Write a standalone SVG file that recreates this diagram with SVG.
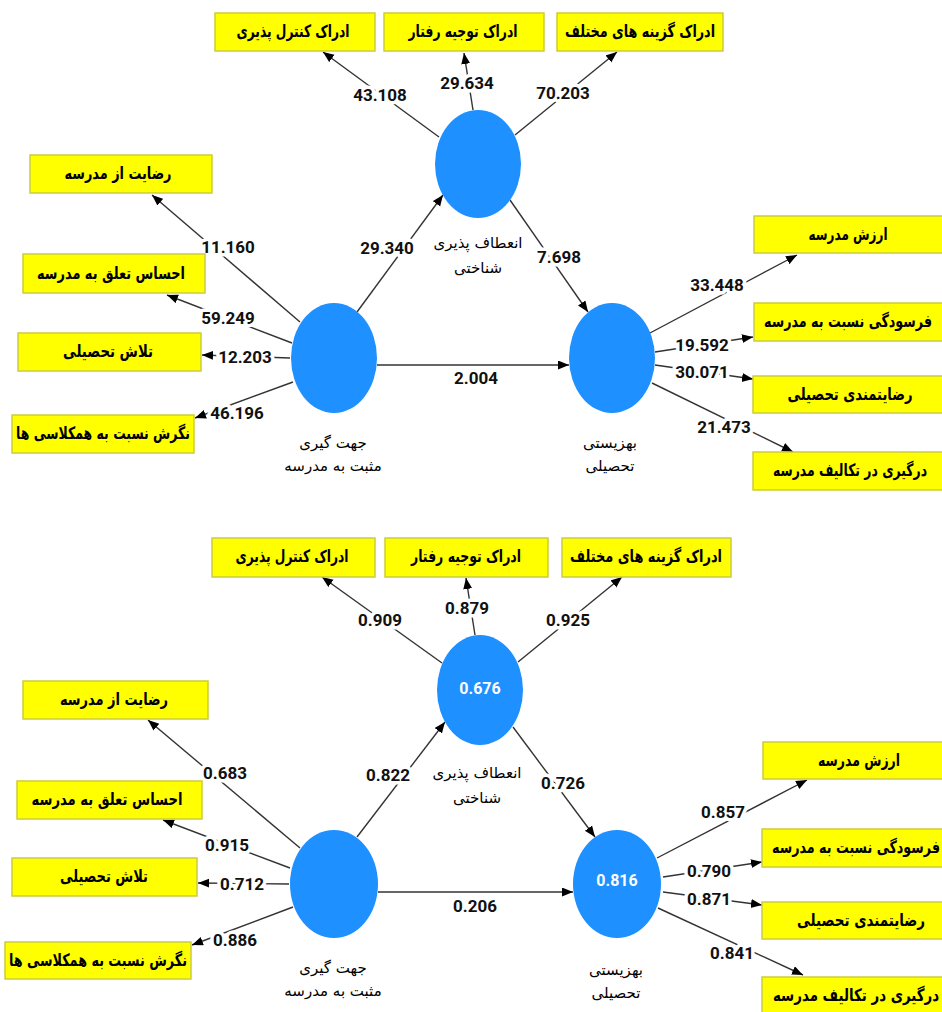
<svg xmlns="http://www.w3.org/2000/svg" width="942" height="1012" viewBox="0 0 942 1012">
<style>
.box{fill:#FFFF00;stroke:#CDCD3A;stroke-width:1.5}
.bt{font-family:"DejaVu Sans",sans-serif;font-weight:bold;font-size:17px;fill:#000;text-anchor:middle;dominant-baseline:central;direction:rtl}
.lv{fill:#1E90FF}
.lt{font-family:"DejaVu Sans",sans-serif;font-size:15px;fill:#000;text-anchor:middle;dominant-baseline:central;direction:rtl}
.r2{font-family:"Roboto","Liberation Sans",sans-serif;font-weight:bold;font-size:16px;fill:#fff;text-anchor:middle;dominant-baseline:central}
.ln{stroke:#333;stroke-width:1.4;fill:none;marker-end:url(#ah)}
.nl{font-family:"Roboto","Liberation Sans",sans-serif;font-weight:bold;font-size:17px;fill:#111;text-anchor:middle;dominant-baseline:central;stroke:#fff;stroke-width:7;paint-order:stroke;stroke-linejoin:round}
</style>
<defs>
<marker id="ah" markerUnits="userSpaceOnUse" markerWidth="12" markerHeight="10" refX="11" refY="4.5" orient="auto">
<path d="M0,0 L11,4.5 L0,9 z" fill="#000"/>
</marker>
</defs>
<rect width="942" height="1012" fill="#fff"/>

<g id="connectors">
<!-- top diagram -->
<line class="ln" x1="439" y1="137" x2="323" y2="52"/>
<line class="ln" x1="473" y1="110" x2="464" y2="53"/>
<line class="ln" x1="515" y1="135" x2="617" y2="52"/>
<line class="ln" x1="510" y1="200" x2="588" y2="312"/>
<line class="ln" x1="300" y1="322" x2="152" y2="195"/>
<line class="ln" x1="357" y1="312" x2="443" y2="195"/>
<line class="ln" x1="292" y1="343" x2="167" y2="295"/>
<line class="ln" x1="290" y1="358" x2="202" y2="355"/>
<line class="ln" x1="293" y1="382" x2="195" y2="418"/>
<line class="ln" x1="377" y1="365" x2="569" y2="365"/>
<line class="ln" x1="650" y1="333" x2="797" y2="255"/>
<line class="ln" x1="655" y1="352" x2="753" y2="337"/>
<line class="ln" x1="655" y1="365" x2="753" y2="379"/>
<line class="ln" x1="652" y1="383" x2="793" y2="452"/>
<text class="nl" x="380" y="95">43.108</text>
<text class="nl" x="467" y="83">29.634</text>
<text class="nl" x="563" y="93">70.203</text>
<text class="nl" x="559" y="257">7.698</text>
<text class="nl" x="228" y="247">11.160</text>
<text class="nl" x="387" y="248">29.340</text>
<text class="nl" x="228" y="318">59.249</text>
<text class="nl" x="245" y="357">12.203</text>
<text class="nl" x="237" y="413">46.196</text>
<text class="nl" x="476" y="378">2.004</text>
<text class="nl" x="717" y="285">33.448</text>
<text class="nl" x="702" y="345">19.592</text>
<text class="nl" x="702" y="372">30.071</text>
<text class="nl" x="724" y="427">21.473</text>
<!-- bottom diagram -->
<line class="ln" x1="442" y1="663" x2="322" y2="577"/>
<line class="ln" x1="475" y1="635" x2="466" y2="578"/>
<line class="ln" x1="518" y1="662" x2="622" y2="577"/>
<line class="ln" x1="513" y1="727" x2="595" y2="837"/>
<line class="ln" x1="300" y1="848" x2="148" y2="720"/>
<line class="ln" x1="357" y1="837" x2="445" y2="722"/>
<line class="ln" x1="290" y1="868" x2="163" y2="820"/>
<line class="ln" x1="289" y1="884" x2="198" y2="883"/>
<line class="ln" x1="293" y1="907" x2="192" y2="945"/>
<line class="ln" x1="378" y1="892" x2="573" y2="892"/>
<line class="ln" x1="657" y1="858" x2="807" y2="780"/>
<line class="ln" x1="663" y1="877" x2="762" y2="862"/>
<line class="ln" x1="663" y1="892" x2="762" y2="905"/>
<line class="ln" x1="658" y1="908" x2="803" y2="975"/>
<text class="nl" x="380" y="620">0.909</text>
<text class="nl" x="467" y="608">0.879</text>
<text class="nl" x="568" y="620">0.925</text>
<text class="nl" x="563" y="783">0.726</text>
<text class="nl" x="225" y="773">0.683</text>
<text class="nl" x="388" y="775">0.822</text>
<text class="nl" x="227" y="845">0.915</text>
<text class="nl" x="242" y="884">0.712</text>
<text class="nl" x="235" y="940">0.886</text>
<text class="nl" x="475" y="906">0.206</text>
<text class="nl" x="723" y="812">0.857</text>
<text class="nl" x="709" y="871">0.790</text>
<text class="nl" x="709" y="899">0.871</text>
<text class="nl" x="732" y="953">0.841</text>
</g>

<!-- top diagram nodes -->
<g id="t-ind-control"><rect class="box" x="215" y="13" width="160" height="38"/><text class="bt" x="293" y="31" textLength="113" lengthAdjust="spacingAndGlyphs">ادراک کنترل پذیری</text></g>
<g id="t-ind-behavior"><rect class="box" x="384" y="13" width="160" height="38"/><text class="bt" x="463" y="31" textLength="109" lengthAdjust="spacingAndGlyphs">ادراک توجیه رفتار</text></g>
<g id="t-ind-options"><rect class="box" x="557" y="13" width="166" height="38"/><text class="bt" x="640" y="31" textLength="150" lengthAdjust="spacingAndGlyphs">ادراک گزینه های مختلف</text></g>
<g id="t-ind-satisfaction"><rect class="box" x="30" y="155" width="182" height="38"/><text class="bt" x="118" y="173" textLength="107" lengthAdjust="spacingAndGlyphs">رضایت از مدرسه</text></g>
<g id="t-ind-belonging"><rect class="box" x="23" y="254" width="182" height="39"/><text class="bt" x="111" y="273" textLength="148" lengthAdjust="spacingAndGlyphs">احساس تعلق به مدرسه</text></g>
<g id="t-ind-effort"><rect class="box" x="18" y="333" width="183" height="38"/><text class="bt" x="108" y="351" textLength="90" lengthAdjust="spacingAndGlyphs">تلاش تحصیلی</text></g>
<g id="t-ind-classmates"><rect class="box" x="12" y="415" width="182" height="38"/><text class="bt" x="103" y="433" textLength="174" lengthAdjust="spacingAndGlyphs">نگرش نسبت به همکلاسی ها</text></g>
<g id="t-ind-value"><rect class="box" x="754" y="216" width="190" height="37"/><text class="bt" x="848" y="234" textLength="79" lengthAdjust="spacingAndGlyphs">ارزش مدرسه</text></g>
<g id="t-ind-burnout"><rect class="box" x="754" y="303" width="190" height="38"/><text class="bt" x="848" y="321" textLength="168" lengthAdjust="spacingAndGlyphs">فرسودگی نسبت به مدرسه</text></g>
<g id="t-ind-acad-sat"><rect class="box" x="753" y="376" width="191" height="37"/><text class="bt" x="850" y="394" textLength="125" lengthAdjust="spacingAndGlyphs">رضایتمندی تحصیلی</text></g>
<g id="t-ind-engage"><rect class="box" x="753" y="452" width="191" height="38"/><text class="bt" x="850" y="470" textLength="154" lengthAdjust="spacingAndGlyphs">درگیری در تکالیف مدرسه</text></g>

<g id="t-flex"><ellipse class="lv" cx="478" cy="164" rx="43" ry="54"/><text class="lt" x="478" y="243">انعطاف پذیری</text><text class="lt" x="478" y="268">شناختی</text></g>
<g id="t-orient"><ellipse class="lv" cx="334" cy="358" rx="43" ry="55"/><text class="lt" x="333" y="443">جهت گیری</text><text class="lt" x="333" y="466">مثبت به مدرسه</text></g>
<g id="t-wellbeing"><ellipse class="lv" cx="612" cy="358" rx="43" ry="55"/><text class="lt" x="610" y="443">بهزیستی</text><text class="lt" x="610" y="466">تحصیلی</text></g>

<!-- bottom diagram nodes -->
<g id="b-ind-control"><rect class="box" x="212" y="538" width="163" height="39"/><text class="bt" x="292" y="556" textLength="113" lengthAdjust="spacingAndGlyphs">ادراک کنترل پذیری</text></g>
<g id="b-ind-behavior"><rect class="box" x="385" y="538" width="163" height="39"/><text class="bt" x="466" y="556" textLength="110" lengthAdjust="spacingAndGlyphs">ادراک توجیه رفتار</text></g>
<g id="b-ind-options"><rect class="box" x="562" y="538" width="169" height="39"/><text class="bt" x="646" y="556" textLength="152" lengthAdjust="spacingAndGlyphs">ادراک گزینه های مختلف</text></g>
<g id="b-ind-satisfaction"><rect class="box" x="23" y="681" width="185" height="38"/><text class="bt" x="114" y="699" textLength="108" lengthAdjust="spacingAndGlyphs">رضایت از مدرسه</text></g>
<g id="b-ind-belonging"><rect class="box" x="17" y="781" width="185" height="38"/><text class="bt" x="107" y="799" textLength="151" lengthAdjust="spacingAndGlyphs">احساس تعلق به مدرسه</text></g>
<g id="b-ind-effort"><rect class="box" x="12" y="858" width="185" height="38"/><text class="bt" x="104" y="876" textLength="88" lengthAdjust="spacingAndGlyphs">تلاش تحصیلی</text></g>
<g id="b-ind-classmates"><rect class="box" x="5" y="942" width="186" height="37"/><text class="bt" x="98" y="960" textLength="178" lengthAdjust="spacingAndGlyphs">نگرش نسبت به همکلاسی ها</text></g>
<g id="b-ind-value"><rect class="box" x="763" y="742" width="182" height="37"/><text class="bt" x="859" y="760" textLength="82" lengthAdjust="spacingAndGlyphs">ارزش مدرسه</text></g>
<g id="b-ind-burnout"><rect class="box" x="762" y="829" width="183" height="38"/><text class="bt" x="856" y="847" textLength="168" lengthAdjust="spacingAndGlyphs">فرسودگی نسبت به مدرسه</text></g>
<g id="b-ind-acad-sat"><rect class="box" x="762" y="902" width="183" height="37"/><text class="bt" x="861" y="920" textLength="128" lengthAdjust="spacingAndGlyphs">رضایتمندی تحصیلی</text></g>
<g id="b-ind-engage"><rect class="box" x="762" y="977" width="183" height="40"/><text class="bt" x="856" y="995" textLength="166" lengthAdjust="spacingAndGlyphs">درگیری در تکالیف مدرسه</text></g>

<g id="b-flex"><ellipse class="lv" cx="480" cy="690" rx="43" ry="55"/><text class="r2" x="480" y="688">0.676</text><text class="lt" x="477" y="773">انعطاف پذیری</text><text class="lt" x="477" y="798">شناختی</text></g>
<g id="b-orient"><ellipse class="lv" cx="334" cy="884" rx="44" ry="54"/><text class="lt" x="333" y="968">جهت گیری</text><text class="lt" x="333" y="991">مثبت به مدرسه</text></g>
<g id="b-wellbeing"><ellipse class="lv" cx="617" cy="884" rx="44" ry="54"/><text class="r2" x="617" y="880">0.816</text><text class="lt" x="616" y="970">بهزیستی</text><text class="lt" x="616" y="993">تحصیلی</text></g>
</svg>
